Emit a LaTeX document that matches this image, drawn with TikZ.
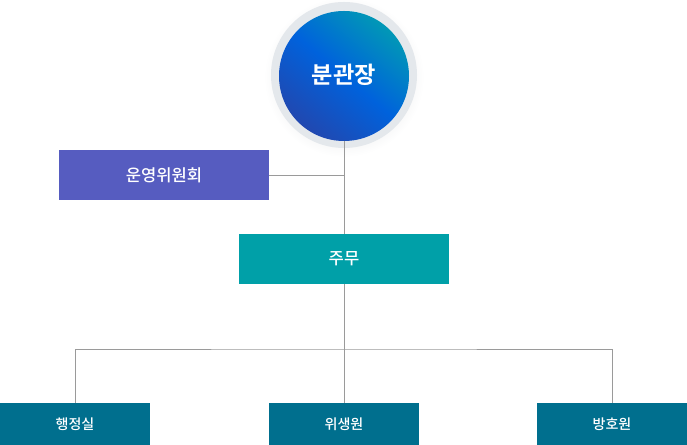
\documentclass[tikz,border=0pt]{standalone}
\usepackage{fontspec}
\setmainfont{Noto Sans CJK KR Medium}
\newfontfamily\krbold{Noto Sans CJK KR Bold}
\usetikzlibrary{positioning}
\definecolor{halo}{HTML}{E4E8EC}
\definecolor{ctop}{HTML}{0198B6}
\definecolor{cmid}{HTML}{0062DC}
\definecolor{cbot}{HTML}{2148B0}
\definecolor{council}{HTML}{565CC0}
\definecolor{chief}{HTML}{00A0A8}
\definecolor{unit}{HTML}{006F8E}
\definecolor{wire}{HTML}{9A9A9A}
\tikzset{
  box/.style={minimum width=5.25cm,minimum height=1.25cm,inner sep=0pt,text=white,font=\fontsize{11.8}{14}\selectfont},
  unitbox/.style={fill=unit,minimum width=3.75cm,minimum height=1.05cm,inner sep=0pt,text=white,font=\fontsize{10}{12}\selectfont},
  wire/.style={draw=wire,line width=0.6pt}
}
\begin{document}
\begin{tikzpicture}[x=0.025cm,y=0.025cm]
    \useasboundingbox (0,0) rectangle (687,445);
    % head of the branch
    \shade[inner color=halo!75!gray, outer color=white] (344,368) circle (80);
    \fill[halo] (344,370) circle (73);
    \shade[top color=ctop, bottom color=cbot, middle color=cmid, shading angle=-40] (344,369) circle (65);
    \node[text=white,font=\krbold\fontsize{16.5}{18}\selectfont] (head) at (344,370) {분관장};
    \coordinate (headb) at (344,304);
    % boxes
    \node[box,fill=council] (council) at (164,270) {운영위원회};
    \node[box,fill=chief] (chief) at (344,186) {주무};
    \node[unitbox] (admin) at (75,21) {행정실};
    \node[unitbox] (hygiene) at (344,21) {위생원};
    \node[unitbox] (guard) at (612,21) {방호원};
    \coordinate (split) at (344,96);
    % connectors
    \draw[wire] (headb) -- (chief.north);
    \draw[wire] (council.east) -- (council.east -| chief.north);
    \draw[wire] (chief.south) -- (split);
    \draw[wire] (admin.north) |- (split) -| (guard.north);
    \draw[wire] (split) -- (hygiene.north);
\end{tikzpicture}
\end{document}
